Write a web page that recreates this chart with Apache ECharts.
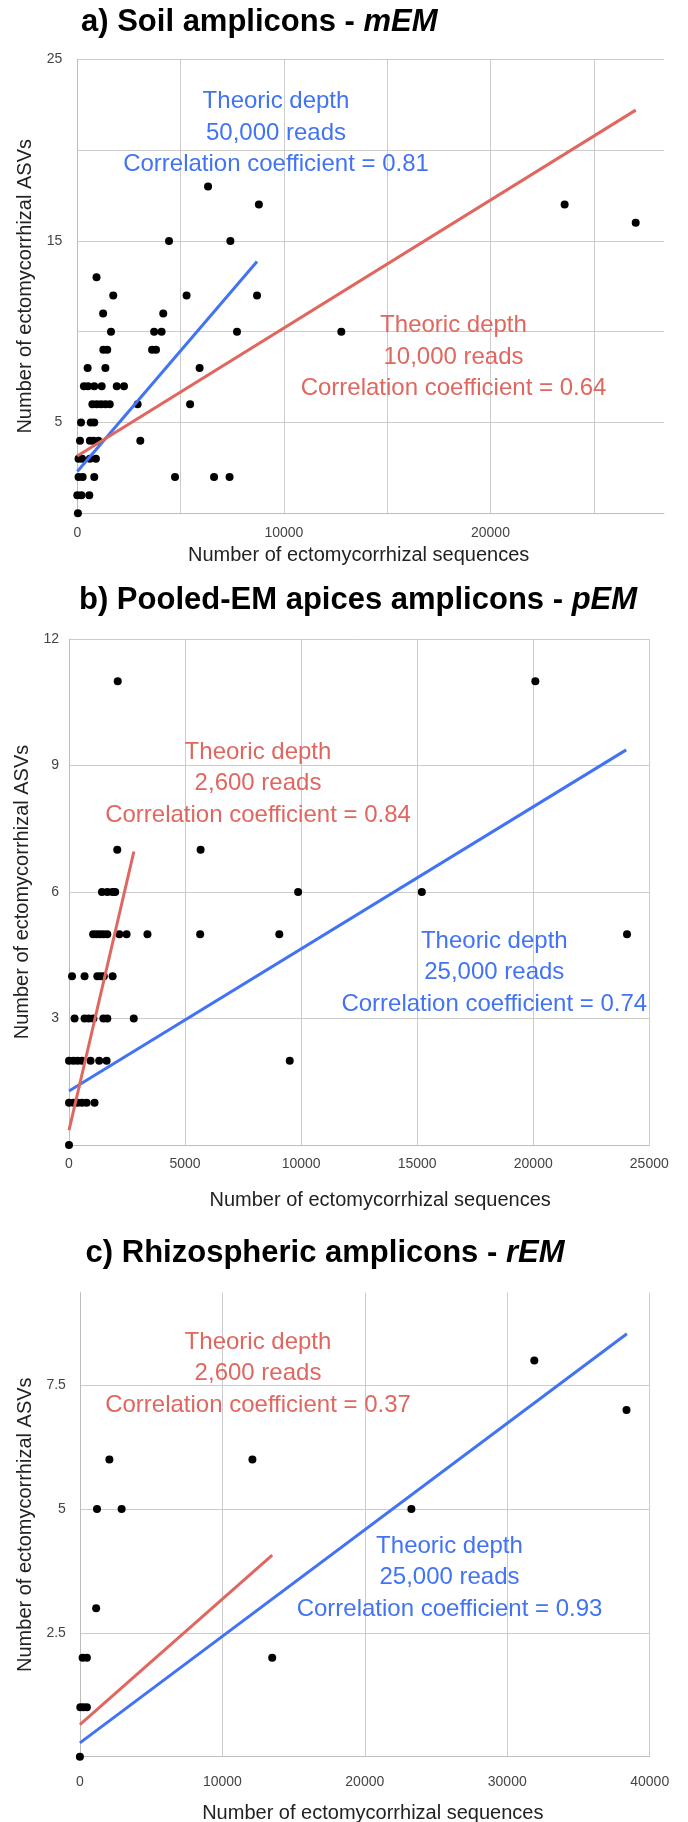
<!DOCTYPE html>
<html><head><meta charset="utf-8">
<script src="https://cdn.jsdelivr.net/npm/echarts@6/dist/echarts.min.js"></script>
<style>html,body{margin:0;padding:0;background:#fff}#c{width:688px;height:1822px}</style>
</head><body><div id="c"></div>
<script>
// ---------- a) Soil amplicons (mEM) ----------
const soilX = [6330, 8790, 23590, 27030, 4440, 7410, 930, 1740, 5290, 8700, 1250, 4160,
  1630, 3720, 4080, 7730, 12780, 1260, 1450, 3620, 3810, 500, 1360, 5920,
  320, 520, 820, 1180, 1910, 2260, 730, 940, 1150, 1360, 1570, 2920, 5460,
  180, 650, 820, 130, 610, 780, 1020, 3050, 60, 230, 610, 900,
  60, 260, 820, 4730, 6620, 7370, 0, 200, 580, 30];
const soilY = [18, 17, 17, 16, 15, 15, 13, 12, 12, 12, 11, 11,
  10, 10, 10, 10, 10, 9, 9, 9, 9, 8, 8, 8,
  7, 7, 7, 7, 7, 7, 6, 6, 6, 6, 6, 6, 6,
  5, 5, 5, 4, 4, 4, 4, 4, 3, 3, 3, 3,
  2, 2, 2, 2, 2, 2, 1, 1, 1, 0];
const soilBlueX = [0, 8700], soilBlueY = [2.3, 13.87];
const soilRedX = [0, 27030], soilRedY = [3.15, 22.2];
const soilXTicks = [0, 10000, 20000];
const soilYTicks = [5, 15, 25];

// ---------- b) Pooled-EM apices amplicons (pEM) ----------
const pooledX = [2100, 20090, 2080, 5670,
  1420, 1650, 1870, 1990, 9870, 15200,
  1040, 1190, 1340, 1490, 1650, 2170, 2480, 3380, 5650, 9060, 24040,
  130, 670, 1220, 1360, 1500, 1880,
  240, 670, 850, 1050, 1480, 1650, 2790,
  0, 190, 370, 560, 930, 1300, 1620, 9510,
  0, 190, 370, 560, 760, 1100,
  0];
const pooledY = [11, 11, 7, 7,
  6, 6, 6, 6, 6, 6,
  5, 5, 5, 5, 5, 5, 5, 5, 5, 5, 5,
  4, 4, 4, 4, 4, 4,
  3, 3, 3, 3, 3, 3, 3,
  2, 2, 2, 2, 2, 2, 2, 2,
  1, 1, 1, 1, 1, 1,
  0];
const pooledRedX = [0, 2795], pooledRedY = [0.35, 6.96];
const pooledBlueX = [0, 24005], pooledBlueY = [1.28, 9.37];
const pooledXTicks = [0, 5000, 10000, 15000, 20000, 25000];
const pooledYTicks = [3, 6, 9, 12];

// ---------- c) Rhizospheric amplicons (rEM) ----------
const rhizoX = [31900, 38370, 2070, 12110, 1200, 2930, 23270, 1140, 190, 490, 13500, 30, 250, 490, 0];
const rhizoY = [8, 7, 6, 6, 5, 5, 5, 3, 2, 2, 2, 1, 1, 1, 0];
const rhizoRedX = [0, 13500], rhizoRedY = [0.65, 4.07];
const rhizoBlueX = [0, 38400], rhizoBlueY = [0.28, 8.54];
const rhizoXTicks = [0, 10000, 20000, 30000, 40000];
const rhizoYTicks = [2.5, 5, 7.5];

const FONT = '"Liberation Sans", Arial, sans-serif';
const BLUE = '#4173f4', RED = '#e0675f';

function zip(xs, ys) { return xs.map((x, i) => [x, ys[i]]); }
function fmt(list) { return v => (list.indexOf(v) >= 0 ? String(v) : ''); }

const panels = [
  { grid: { left: 77.3, top: 59.3, width: 586.7, height: 454 },
    xMax: 28400, xInt: 5000, yMax: 25, yInt: 5, xTicks: soilXTicks, yTicks: soilYTicks,
    xShowMax: false, yShowMax: true, xLabMargin: 13, yLabMargin: 15, xGap: 32, yGap: 41, xNamePad: [0, 24, 0, 0],
    pts: zip(soilX, soilY), blue: zip(soilBlueX, soilBlueY), red: zip(soilRedX, soilRedY) },
  { grid: { left: 69, top: 639, width: 580.3, height: 506 },
    xMax: 25000, xInt: 5000, yMax: 12, yInt: 3, xTicks: pooledXTicks, yTicks: pooledYTicks,
    xShowMax: true, yShowMax: true, xLabMargin: 12, yLabMargin: 10, xGap: 45, yGap: 33, xNamePad: [0, 0, 0, 42],
    pts: zip(pooledX, pooledY), blue: zip(pooledBlueX, pooledBlueY), red: zip(pooledRedX, pooledRedY) },
  { grid: { left: 79.9, top: 1292.7, width: 569.8, height: 464 },
    xMax: 40000, xInt: 10000, yMax: 9.37, yInt: 2.5, xTicks: rhizoXTicks, yTicks: rhizoYTicks,
    xShowMax: true, yShowMax: false, xLabMargin: 18, yLabMargin: 14, xGap: 46.6, yGap: 44, xNamePad: [0, 0, 0, 16],
    pts: zip(rhizoX, rhizoY), blue: zip(rhizoBlueX, rhizoBlueY), red: zip(rhizoRedX, rhizoRedY) }
];

const option = {
  animation: false,
  backgroundColor: '#fff',
  title: [
    { text: '{b|a) Soil amplicons - }{i|mEM}', left: 81, top: 4.5, padding: 0 },
    { text: '{b|b) Pooled-EM apices amplicons - }{i|pEM}', left: 79, top: 582.3, padding: 0 },
    { text: '{b|c) Rhizospheric amplicons - }{i|rEM}', left: 85.6, top: 1235, padding: 0 }
  ].map(t => Object.assign(t, { textStyle: { rich: {
    b: { fontFamily: FONT, fontWeight: 'bold', fontSize: 31, color: '#000', lineHeight: 36 },
    i: { fontFamily: FONT, fontStyle: 'italic', fontSize: 31, color: '#000', lineHeight: 36 }
  } } })),
  grid: panels.map(p => Object.assign({ containLabel: false, outerBoundsMode: 'none' }, p.grid)),
  xAxis: panels.map((p, i) => ({
    type: 'value', gridIndex: i, min: 0, max: p.xMax, interval: p.xInt,
    name: 'Number of ectomycorrhizal sequences', nameLocation: 'middle', nameGap: p.xGap,
    nameTextStyle: { fontFamily: FONT, fontSize: 20, color: '#222', padding: p.xNamePad },
    axisLine: { show: true, onZero: false, lineStyle: { color: '#bdbdbd', width: 1 } },
    axisTick: { show: false },
    axisLabel: { formatter: fmt(p.xTicks), fontFamily: FONT, fontSize: 14, color: '#444', margin: p.xLabMargin, showMaxLabel: true, hideOverlap: false },
    splitLine: { show: true, showMaxLine: p.xShowMax, lineStyle: { color: '#cccccc', width: 1 } }
  })),
  yAxis: panels.map((p, i) => ({
    type: 'value', gridIndex: i, min: 0, max: p.yMax, interval: p.yInt,
    name: 'Number of ectomycorrhizal ASVs', nameLocation: 'middle', nameGap: p.yGap,
    nameTextStyle: { fontFamily: FONT, fontSize: 20, color: '#222' },
    axisLine: { show: true, onZero: false, lineStyle: { color: '#bdbdbd', width: 1 } },
    axisTick: { show: false },
    axisLabel: { formatter: fmt(p.yTicks), fontFamily: FONT, fontSize: 14, color: '#444', margin: p.yLabMargin, hideOverlap: false },
    splitLine: { show: true, showMaxLine: p.yShowMax, lineStyle: { color: '#cccccc', width: 1 } }
  })),
  series: [].concat(...panels.map((p, i) => [
    { type: 'scatter', xAxisIndex: i, yAxisIndex: i, data: p.pts, symbolSize: 8,
      itemStyle: { color: '#000', opacity: 1 }, z: 2, silent: true },
    { type: 'line', xAxisIndex: i, yAxisIndex: i, data: p.blue, showSymbol: false, symbol: 'none',
      lineStyle: { color: BLUE, width: 3 }, z: 3, silent: true },
    { type: 'line', xAxisIndex: i, yAxisIndex: i, data: p.red, showSymbol: false, symbol: 'none',
      lineStyle: { color: RED, width: 3 }, z: 3, silent: true }
  ])),
  graphic: [
    { x: 276, y: 132.9, color: BLUE, text: 'Theoric depth\n50,000 reads\nCorrelation coefficient = 0.81' },
    { x: 453.5, y: 356.9, color: RED, text: 'Theoric depth\n10,000 reads\nCorrelation coefficient = 0.64' },
    { x: 258, y: 783.6, color: RED, text: 'Theoric depth\n2,600 reads\nCorrelation coefficient = 0.84' },
    { x: 494.3, y: 972.6, color: BLUE, text: 'Theoric depth\n25,000 reads\nCorrelation coefficient = 0.74' },
    { x: 258, y: 1373.7, color: RED, text: 'Theoric depth\n2,600 reads\nCorrelation coefficient = 0.37' },
    { x: 449.5, y: 1577.7, color: BLUE, text: 'Theoric depth\n25,000 reads\nCorrelation coefficient = 0.93' }
  ].map(a => ({
    type: 'text', x: a.x, y: a.y, z: 10, silent: true,
    style: { text: a.text, fill: a.color, fontFamily: FONT, fontSize: 24,
      align: 'center', verticalAlign: 'middle', textAlign: 'center', textVerticalAlign: 'middle', lineHeight: 31.3 }
  }))
};

const chart = echarts.init(document.getElementById('c'), null, { renderer: 'canvas', width: 688, height: 1822 });
chart.setOption(option);
</script>
</body></html>
